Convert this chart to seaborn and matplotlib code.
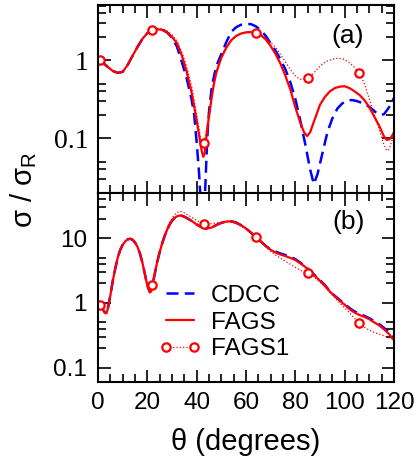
import numpy as np
import matplotlib
matplotlib.use("Agg")
import matplotlib.pyplot as plt
import seaborn as sns
from matplotlib.ticker import MultipleLocator, NullFormatter, FixedLocator

# ---- panel (a) data ----
th_cdcc_a = [0, 2, 4, 6, 8, 10, 12, 14, 16, 18, 20, 22, 24, 26, 28, 30, 32, 34, 36, 38,
             39, 40, 41, 41.5, 42, 42.5, 43, 43.5, 44, 44.5, 45, 46, 47, 48, 50, 52, 54, 56, 58, 60,
             62, 64, 66, 68, 70, 72, 74, 76, 78, 80, 82, 84, 86, 87.5, 89, 91, 93, 95, 97, 99,
             101, 103, 105, 107, 109, 111, 113, 115, 116, 118, 120]
cdcc_a = [1.0, 0.93, 0.82, 0.73, 0.69, 0.71, 0.87, 1.14, 1.48, 1.88, 2.22, 2.46, 2.55, 2.48, 2.27, 1.95, 1.5, 0.95, 0.58, 0.31,
          0.2, 0.09, 0.035, 0.018, 0.008, 0.006, 0.012, 0.024, 0.06, 0.13, 0.22, 0.42, 0.62, 0.85, 1.2, 1.7, 2.3, 2.65, 2.85, 2.93,
          2.9, 2.72, 2.42, 2.05, 1.65, 1.32, 1.02, 0.76, 0.52, 0.32, 0.17, 0.085, 0.04, 0.026, 0.035, 0.065, 0.12, 0.18, 0.24, 0.28,
          0.305, 0.31, 0.30, 0.285, 0.265, 0.24, 0.21, 0.20, 0.205, 0.25, 0.33]

th_fags_a = [0, 2, 4, 6, 8, 10, 12, 14, 16, 18, 20, 22, 24, 26, 28, 30, 32, 34, 36, 38,
             40, 41, 42, 42.7, 43.3, 44, 45, 46, 47, 48, 50, 52, 54, 56, 58, 60, 62, 64, 66, 68,
             70, 72, 74, 76, 78, 80, 82, 83.5, 84.8, 86, 88, 90, 92, 94, 96, 98, 100, 102, 104, 106,
             108, 110, 112, 114, 116, 117, 118, 119, 120]
fags_a = [1.0, 0.93, 0.82, 0.73, 0.69, 0.71, 0.87, 1.14, 1.48, 1.88, 2.22, 2.44, 2.5, 2.45, 2.27, 2.0, 1.65, 1.15, 0.7, 0.38,
          0.17, 0.11, 0.07, 0.058, 0.065, 0.11, 0.19, 0.32, 0.5, 0.7, 1.08, 1.45, 1.8, 2.05, 2.2, 2.28, 2.3, 2.25, 2.1, 1.85,
          1.52, 1.2, 0.9, 0.63, 0.42, 0.25, 0.16, 0.12, 0.107, 0.12, 0.18, 0.27, 0.34, 0.40, 0.44, 0.46, 0.465, 0.44, 0.40, 0.36,
          0.31, 0.25, 0.19, 0.145, 0.105, 0.096, 0.097, 0.105, 0.12]

th_fags1_a = [0, 1, 2, 4, 6, 8, 10, 12, 14, 16, 18, 20, 22, 24, 26, 28, 30, 32, 34, 36,
              38, 40, 41, 42, 42.5, 43, 44, 45, 46, 47, 48, 50, 52, 54, 56, 58, 60, 62, 64, 66,
              68, 70, 72, 74, 76, 78, 80, 82, 84, 85, 87, 89, 91, 93, 95, 97, 99, 101, 103, 105,
              106, 108, 110, 112, 114, 115.5, 117, 118, 119, 120]
fags1_a = [1.02, 1.0, 0.94, 0.82, 0.73, 0.69, 0.71, 0.87, 1.14, 1.48, 1.88, 2.22, 2.42, 2.55, 2.55, 2.38, 2.12, 1.78, 1.28, 0.82,
           0.46, 0.2, 0.13, 0.085, 0.078, 0.088, 0.13, 0.21, 0.34, 0.52, 0.72, 1.1, 1.48, 1.82, 2.05, 2.2, 2.25, 2.27, 2.22, 2.12,
           1.95, 1.7, 1.45, 1.18, 0.95, 0.76, 0.63, 0.57, 0.58, 0.60, 0.66, 0.78, 0.9, 0.98, 1.03, 1.06, 1.05, 0.98, 0.87, 0.75,
           0.69, 0.5, 0.32, 0.2, 0.13, 0.09, 0.07, 0.072, 0.09, 0.12]

# ---- panel (b) data ----
th_b = [0, 1, 2, 3, 3.5, 4, 5, 6, 7, 8, 9, 10, 11, 12, 13, 14, 15, 16, 17, 18,
        19, 20, 21, 21.5, 22, 23, 24, 25, 26, 27, 28, 29, 30, 31, 32, 33, 34, 35, 36, 38,
        40, 42, 44, 46, 48, 50, 52, 54, 56, 58, 60, 62, 64, 66, 68, 70, 72, 74, 76, 78,
        80, 82, 84, 86, 88, 90, 92, 94, 96, 98, 100, 102, 104, 106, 108, 110, 112, 114, 116, 118, 120]
fags_b = [1.0, 0.9, 0.79, 0.69, 0.7, 0.82, 1.3, 2.2, 3.4, 5.0, 6.6, 7.9, 8.9, 9.6, 9.8, 9.5, 8.6, 7.4, 5.8, 4.2,
          2.8, 1.85, 1.45, 1.5, 1.8, 2.8, 4.3, 6.1, 8.3, 10.8, 13.4, 16.2, 18.6, 20.5, 21.8, 22.4, 22.2, 21.5, 20.5, 18.5,
          16.3, 14.8, 14.1, 14.6, 16.0, 17.3, 18.1, 18.3, 17.5, 15.9, 14.2, 12.2, 10.4, 8.9, 7.6, 6.6, 6.0, 5.6, 5.3, 4.95,
          4.6, 4.1, 3.6, 3.1, 2.6, 2.2, 1.85, 1.5, 1.27, 1.08, 0.94, 0.8, 0.71, 0.65, 0.61, 0.56, 0.5, 0.45, 0.39, 0.33, 0.265]
cdcc_b = [1.0, 0.9, 0.79, 0.69, 0.7, 0.82, 1.3, 2.2, 3.4, 5.0, 6.6, 7.9, 8.9, 9.6, 9.8, 9.5, 8.6, 7.4, 5.8, 4.2,
          2.8, 1.85, 1.5, 1.55, 1.85, 2.8, 4.3, 6.1, 8.3, 10.8, 13.4, 16.2, 18.6, 20.5, 21.8, 22.4, 22.2, 21.5, 20.5, 18.5,
          16.3, 14.8, 14.1, 14.6, 16.0, 17.3, 18.1, 18.3, 17.5, 15.9, 14.2, 12.2, 10.4, 8.9, 7.6, 6.7, 6.2, 5.8, 5.5, 5.15,
          4.75, 4.2, 3.7, 3.15, 2.65, 2.25, 1.88, 1.52, 1.29, 1.11, 0.97, 0.83, 0.74, 0.68, 0.63, 0.58, 0.52, 0.47, 0.41, 0.35, 0.29]

th_fags1_b = [0, 1, 2, 3, 3.5, 4, 5, 6, 7, 8, 9, 10, 11, 12, 13, 14, 15, 16, 17, 18,
              19, 20, 21, 22, 23, 24, 25, 26, 27, 28, 29, 30, 31, 32, 33, 34, 35, 36, 38, 40,
              42, 43, 44, 46, 48, 50, 52, 54, 56, 58, 60, 62, 64, 66, 68, 70, 72, 74, 76, 78,
              80, 82, 84, 85, 86, 88, 90, 92, 94, 96, 98, 100, 102, 104, 106, 108, 110, 112, 114, 116, 118, 120]
fags1_b = [0.95, 0.92, 0.82, 0.72, 0.72, 0.84, 1.3, 2.2, 3.4, 5.0, 6.6, 7.9, 8.9, 9.6, 9.8, 9.5, 8.6, 7.4, 5.8, 4.2,
           2.8, 1.9, 1.58, 1.9, 2.9, 4.4, 6.3, 8.7, 11.5, 14.5, 17.6, 20.5, 23.0, 25.0, 26.0, 25.8, 24.8, 23.5, 21.0, 18.8,
           17.3, 16.8, 16.6, 16.8, 17.2, 17.5, 17.7, 17.5, 16.7, 15.3, 13.7, 12.0, 10.4, 8.8, 7.4, 6.3, 5.5, 4.9, 4.4, 3.95,
           3.55, 3.2, 2.98, 2.9, 2.78, 2.45, 2.1, 1.75, 1.45, 1.2, 1.0, 0.84, 0.7, 0.58, 0.49, 0.42, 0.38, 0.35, 0.33, 0.31, 0.29, 0.265]

marker_theta = [1, 22, 43, 64, 85, 106]
xticks = [0, 20, 40, 60, 80, 100, 120]
labels = ["CDCC", "FAGS", "FAGS1"]

sns.set_style("ticks")
plt.rcParams["font.family"] = ["Liberation Sans", "DejaVu Sans"]
plt.rcParams["text.color"] = "black"
plt.rcParams["xtick.color"] = "black"
plt.rcParams["ytick.color"] = "black"

fig = plt.figure(figsize=(4.16, 4.61), dpi=100)
W, H = 416, 461
left, right = 98, 394
ax_a = fig.add_axes([left / W, 1 - 193 / H, (right - left) / W, 188 / H])
ax_b = fig.add_axes([left / W, 1 - 382 / H, (right - left) / W, 189 / H])

blue_kw = dict(color="#0000ff", lw=1.8, linestyle=(0, (4.8, 2.5)))
red_kw = dict(color="#ff0000", lw=1.6)
dot_kw = dict(color="#ff0000", lw=0.9, linestyle=":", marker="o", markersize=6,
              markerfacecolor="white", markeredgecolor="#ff0000", markeredgewidth=1.6)


def marks(th):
    return [i for i, t in enumerate(th) if t in marker_theta]


def draw(ax, thc, yc, thf, yf, th1, y1, with_labels):
    lab = labels if with_labels else [None] * 3
    sns.lineplot(x=thc, y=yc, ax=ax, estimator=None, sort=False, label=lab[0], **blue_kw)
    sns.lineplot(x=thf, y=yf, ax=ax, estimator=None, sort=False, label=lab[1], **red_kw)
    sns.lineplot(x=th1, y=y1, ax=ax, estimator=None, sort=False, label=lab[2],
                 markevery=marks(th1), **dot_kw)


draw(ax_a, th_cdcc_a, cdcc_a, th_fags_a, fags_a, th_fags1_a, fags1_a, False)
draw(ax_b, th_b, cdcc_b, th_b, fags_b, th_fags1_b, fags1_b, True)

for ax in (ax_a, ax_b):
    ax.set_yscale("log")
    ax.set_xlim(0, 120)
    ax.set_xticks(xticks)
    ax.xaxis.set_minor_locator(MultipleLocator(5))
    ax.tick_params(which="both", direction="in", top=True, right=True, width=1.2, colors="black")
    ax.tick_params(which="major", length=9)
    ax.tick_params(which="minor", length=5.5)
    ax.set_xlabel("")
    ax.set_ylabel("")
    for s in ax.spines.values():
        s.set_linewidth(1.5)
        s.set_color("black")

# panel (a)
ax_a.set_ylim(0.02, 5.1)
ax_a.set_yticks([0.1, 1])
ax_a.set_yticklabels(["0.1", "1"], fontfamily="Liberation Serif", fontsize=20)
ax_a.yaxis.set_minor_locator(FixedLocator([0.02, 0.03, 0.04, 0.05, 0.2, 0.3, 0.4, 0.5, 2, 3, 4, 5]))
ax_a.yaxis.set_minor_formatter(NullFormatter())
ax_a.tick_params(axis="x", labelbottom=False)
ax_a.tick_params(axis="y", pad=7)
ax_a.text(0.845, 0.835, "(a)", transform=ax_a.transAxes, ha="center", va="center", fontsize=19)

# panel (b)
ax_b.set_ylim(0.06, 50)
ax_b.set_yticks([0.1, 1, 10])
ax_b.set_yticklabels(["0.1", "1", "10"], fontsize=17.5)
ax_b.yaxis.set_minor_locator(FixedLocator([0.2, 0.3, 0.4, 0.5, 2, 3, 4, 5, 20, 30, 40]))
ax_b.yaxis.set_minor_formatter(NullFormatter())
ax_b.set_xticklabels([str(t) for t in xticks], fontsize=17.5)
ax_b.tick_params(axis="y", pad=8)
ax_b.tick_params(axis="x", pad=7)
ax_b.text(0.845, 0.844, "(b)", transform=ax_b.transAxes, ha="center", va="center", fontsize=19)

ax_b.legend(loc="upper left", bbox_to_anchor=(0.205, 0.515), frameon=False, fontsize=17.5,
            handlelength=1.75, handletextpad=0.4, labelspacing=0.2, numpoints=2,
            borderpad=0, borderaxespad=0)

fig.text(24 / W, 1 - 190 / H, "σ / σ$_\\mathregular{R}$", rotation=90, ha="center", va="center", fontsize=21)
fig.text(246 / W, 1 - 442 / H, "θ (degrees)", ha="center", va="center", fontsize=21)

fig.savefig("out.png", dpi=100)
